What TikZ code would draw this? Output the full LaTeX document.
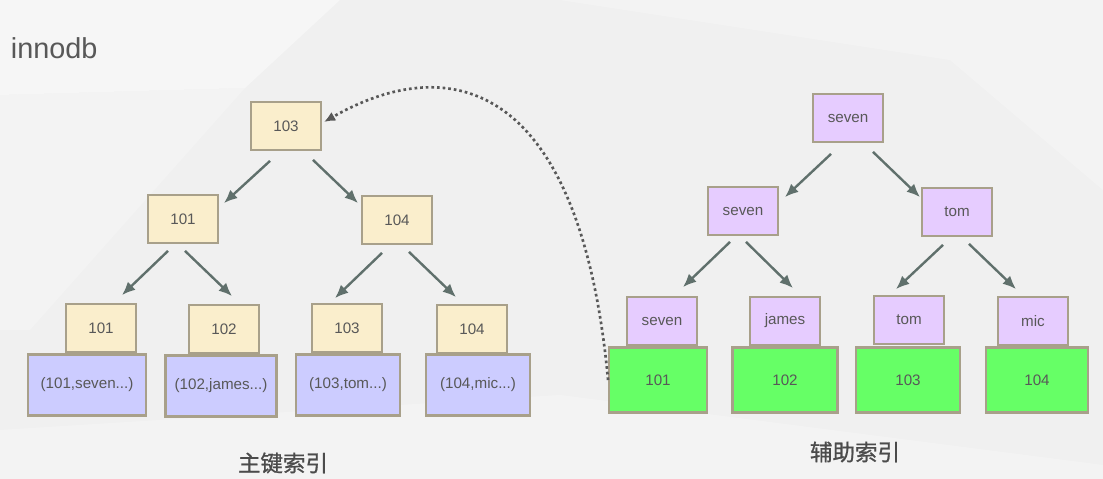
\documentclass[tikz,border=0pt]{standalone}
\usepackage{fontspec}
\setmainfont{Liberation Sans}
\newfontfamily\cjk[FakeBold=0.9]{Noto Sans CJK SC}
\usetikzlibrary{arrows.meta,calc}
\definecolor{KeyClr}{RGB}{250,238,204}
\definecolor{RowClr}{RGB}{204,204,255}
\definecolor{SecClr}{RGB}{230,204,255}
\definecolor{LeafClr}{RGB}{102,255,102}
\definecolor{EdgeClr}{RGB}{168,160,138}
\definecolor{ArrowClr}{RGB}{96,112,108}
\definecolor{TextClr}{RGB}{88,88,88}
\definecolor{BackClr}{RGB}{240,240,240}

\tikzset{
  box/.style={draw=EdgeClr,line width=1.6pt,inner sep=0pt,text=TextClr,
    font=\fontsize{10.8}{13}\selectfont},
  keybox/.style={box,fill=KeyClr,minimum width=1.74cm,minimum height=1.19cm},
  rowbox/.style={box,fill=RowClr,minimum height=1.52cm},
  secbox/.style={box,fill=SecClr,minimum width=1.74cm,minimum height=1.19cm},
  leafbox/.style={box,fill=LeafClr,minimum height=1.62cm},
  arr/.style={-{Latex[length=9.5pt,width=8pt]},draw=ArrowClr,line width=1.7pt},
  link/.style={-{Latex[length=8pt,width=7pt]},draw=TextClr,line width=1.9pt,
    dash pattern=on 1.9pt off 2.1pt},
  caption/.style={text=TextClr!85!black,font=\cjk\fontsize{16}{18}\selectfont}
}

\begin{document}
\begin{tikzpicture}[x=0.025cm,y=-0.025cm]
% background facets
\fill[BackClr] (0,0) rectangle (1103,479);
\fill[white,opacity=.4] (0,0) -- (340,0) -- (245,88) -- (0,95) -- cycle;
\fill[white,opacity=.25] (560,0) -- (1103,0) -- (1103,190) -- (950,60) -- cycle;
\fill[white,opacity=.2] (0,95) -- (245,88) -- (30,330) -- (0,330) -- cycle;
\fill[white,opacity=.25] (0,430) -- (560,395) -- (1103,465) -- (1103,479) -- (0,479) -- cycle;

\node[anchor=west,text=TextClr,font=\fontsize{20.5}{24}\selectfont] (title) at (6,48) {innodb};

% primary key tree
\node[keybox] (k103) at (286,126) {103};
\node[keybox] (k101) at (183,219) {101};
\node[keybox] (k104) at (397,220) {104};

\node[keybox] (lk1) at (101,328) {101};
\node[keybox] (lk2) at (224,329) {102};
\node[keybox] (lk3) at (347,328) {103};
\node[keybox] (lk4) at (472,329) {104};

\node[rowbox,minimum width=2.94cm] (d1) at (87,385) {(101,seven...)};
\node[rowbox,minimum width=2.77cm] (d2) at (221,386) {(102,james...)};
\node[rowbox,minimum width=2.59cm] (d3) at (348,385) {(103,tom...)};
\node[rowbox,minimum width=2.59cm] (d4) at (478,385) {(104,mic...)};

\draw[arr] ([shift={(-16,10)}]k103.south) -- ([shift={(41,9)}]k101.north);
\draw[arr] ([shift={(27,9)}]k103.south) -- ([shift={(-39,8)}]k104.north);
\draw[arr] ([shift={(-15,7)}]k101.south) -- ([shift={(21,-8)}]lk1.north);
\draw[arr] ([shift={(2,7)}]k101.south) -- ([shift={(8,-8)}]lk2.north);
\draw[arr] ([shift={(-15,8)}]k104.south) -- ([shift={(-12,-5)}]lk3.north);
\draw[arr] ([shift={(12,7)}]k104.south) -- ([shift={(-16,-7)}]lk4.north);

\node[caption] (pcap) at (283,463) {主键索引};

% secondary index tree
\node[secbox] (s0) at (848,118) {seven};
\node[secbox] (s1) at (743,211) {seven};
\node[secbox] (s2) at (957,212) {tom};

\node[secbox] (sk1) at (662,321) {seven};
\node[secbox] (sk2) at (785,321) {james};
\node[secbox] (sk3) at (909,320) {tom};
\node[secbox] (sk4) at (1033,321) {mic};

\node[leafbox,minimum width=2.44cm] (g1) at (658,380) {101};
\node[leafbox,minimum width=2.62cm] (g2) at (785,380) {102};
\node[leafbox,minimum width=2.59cm] (g3) at (908,380) {103};
\node[leafbox,minimum width=2.54cm] (g4) at (1037,380) {104};

\draw[arr] ([shift={(-17,11)}]s0.south) -- ([shift={(42,11)}]s1.north);
\draw[arr] ([shift={(25,9)}]s0.south) -- ([shift={(-37,10)}]s2.north);
\draw[arr] ([shift={(-13,6)}]s1.south) -- ([shift={(21,-9)}]sk1.north);
\draw[arr] ([shift={(3,6)}]s1.south) -- ([shift={(8,-8)}]sk2.north);
\draw[arr] ([shift={(-14,8)}]s2.south) -- ([shift={(-13,-6)}]sk3.north);
\draw[arr] ([shift={(12,7)}]s2.south) -- ([shift={(-17,-7)}]sk4.north);

\node[caption] (scap) at (855,452) {辅助索引};

% back to the primary key
\draw[link] (g1.west) .. controls (580,80) and (450,50) .. ([shift={(2,-4)}]k103.east);

\end{tikzpicture}
\end{document}
